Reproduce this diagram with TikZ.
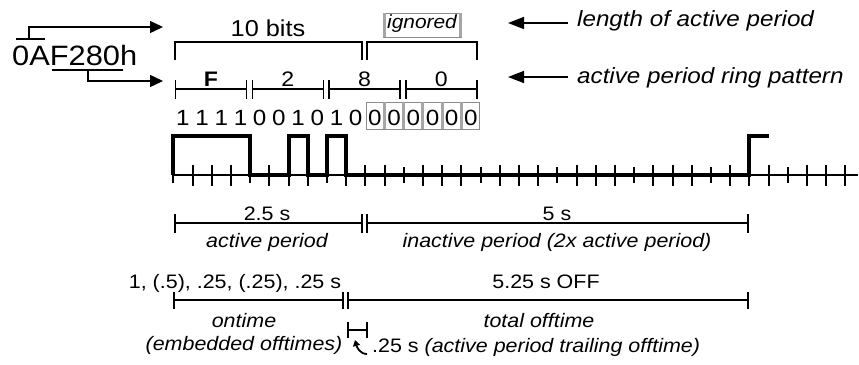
\documentclass[tikz,border=0pt]{standalone}
\usepackage{fontspec}
\setmainfont{Liberation Sans}[FakeStretch=1.1]
\usetikzlibrary{arrows.meta,positioning}

\newcommand{\spanbar}[3][9.5]{%
  \draw[dim] ([yshift=-#1pt]#2) -- ([yshift=#1pt]#2) (#2) -- (#3)
    ([yshift=-#1pt]#3) -- ([yshift=#1pt]#3);}
\newcommand{\bracketbar}[2]{%
  \draw[dim] ([yshift=-18pt]#1) -- (#1) -- (#2) -- ([yshift=-18pt]#2);}

\begin{document}
\begin{tikzpicture}[x=1pt,y=-1pt,
  dim/.style={line width=1.3pt},
  wave/.style={line width=4pt},
  tick/.style={line width=2pt},
  txt/.style={inner sep=0pt,anchor=base,font=\fontsize{19.5}{22}\selectfont},
  itx/.style={txt,font=\fontsize{19.5}{22}\selectfont\itshape},
  side/.style={inner sep=0pt,anchor=base west,font=\fontsize{22}{24}\selectfont\itshape},
  pointer/.style={line width=1.5pt,-{Triangle[length=16pt,width=12pt]}},
  greyline/.style={draw=black!45,line width=0.8pt},
  greybar/.style={black!35,line width=3pt}]

\useasboundingbox (0,0) rectangle (859,364);

% hex code and its two pointers
\node[inner sep=0pt,anchor=base west,font=\fontsize{28}{30}\selectfont] (HEX) at (12,65) {0AF280h};
\coordinate (OL1) at (16,39);
\coordinate (OL2) at (45,39);
\coordinate (OLM) at (29,39);
\coordinate (UL1) at (52,70);
\coordinate (UL2) at (123,70);
\coordinate (ULM) at (88,70);
\coordinate (LP) at (163,27);
\coordinate (RP) at (163,81);
\draw[dim] (OL1) -- (OL2);
\draw[dim] (UL1) -- (UL2);
\draw[pointer,-{Triangle[length=13pt,width=12pt]}] (OLM) |- (LP);
\draw[pointer,-{Triangle[length=13pt,width=12pt]}] (ULM) |- (RP);

% length brackets
\coordinate (TB1) at (175,42);
\coordinate (TB2) at (362,42);
\coordinate (TB3) at (367,42);
\coordinate (TB4) at (477,42);
\bracketbar{TB1}{TB2}
\bracketbar{TB3}{TB4}
\node[txt,font=\fontsize{23}{25}\selectfont] (BITS) at (268,36) {10 bits};
\draw[greyline] (383,13) rectangle (461,37);
\draw[greybar] (384,13) -- (384,37) (460,13) -- (460,37);
\node[itx,font=\fontsize{19}{21}\selectfont\itshape] (IGN) at (422,28) {ignored};

% ring pattern digits
\foreach \k/\v in {0/{\textbf{F}},1/2,2/8,3/0}{
  \coordinate (PA\k) at (175.5+76.8*\k,89);
  \coordinate (PB\k) at (246.5+76.8*\k,89);
  \spanbar{PA\k}{PB\k}
  \node[txt,font=\fontsize{21}{23}\selectfont] (PL\k) at (211+76.8*\k,86.5) {\v};
}

% bits
\draw[greyline] (366,102) rectangle (479,129);
\foreach \i in {11,...,15}
  \draw[greybar] (173.3+19.2*\i,102) -- (173.3+19.2*\i,129);
\foreach \b [count=\i from 0] in {1,1,1,1,0,0,1,0,1,0,0,0,0,0,0,0}
  \node[txt,font=\fontsize{22}{24}\selectfont] (BIT\i) at (182.9+19.2*\i,125) {\b};

% ring waveform
\coordinate (W0) at (173.3,175);
\coordinate (WE) at (858,175);
\foreach \i in {0,...,35}{
  \pgfmathsetmacro\h{mod(\i,4)==0 ? 8 : 10.5}
  \draw[tick] (173.3+19.2*\i,175-\h) -- (173.3+19.2*\i,175+\h);
}
\draw[tick] (W0) -- (WE);
\draw[wave] (W0) -- ++(0,-39) -- ++(76.8,0) -- ++(0,39) -- ++(38.4,0)
  -- ++(0,-39) -- ++(19.2,0) -- ++(0,39) -- ++(19.2,0)
  -- ++(0,-39) -- ++(19.2,0) -- ++(0,39) -- ++(403.2,0)
  -- ++(0,-39) -- ++(19.2,0);

% periods
\coordinate (AP1) at (175,223);
\coordinate (AP2) at (362,223);
\coordinate (IP1) at (367,223);
\coordinate (IP2) at (748,223);
\spanbar{AP1}{AP2}
\spanbar{IP1}{IP2}
\node[txt] (APT) at (267,220) {2.5 s};
\node[itx] (APL) at (267,247) {active period};
\node[txt] (IPT) at (557,220) {5 s};
\node[itx] (IPL) at (557,247) {inactive period (2x active period)};

% on and off times
\coordinate (ON1) at (174,300);
\coordinate (ON2) at (343,300);
\coordinate (OF1) at (348,300);
\coordinate (OF2) at (748,300);
\spanbar[8.5]{ON1}{ON2}
\spanbar[8.5]{OF1}{OF2}
\node[txt] (ONT) at (235,288) {1, (.5), .25, (.25), .25 s};
\node[itx] (ONL) at (244,327) {ontime};
\node[itx] (ONE) at (244,350) {(embedded offtimes)};
\node[txt] (OFT) at (546,288) {5.25 s OFF};
\node[itx] (OFL) at (539,327) {total offtime};

% trailing offtime
\coordinate (TR1) at (348,330);
\coordinate (TR2) at (367,330);
\spanbar[8]{TR1}{TR2}
\coordinate (CA1) at (367,354);
\coordinate (CA2) at (355,340);
\draw[line width=1.8pt,-{Triangle[length=6pt,width=7pt]}] (CA1) to[out=180,in=-75] (CA2);
\node[txt,anchor=base west] (TRT) at (372,352) {.25 s \textit{(active period trailing offtime)}};

% side notes
\coordinate (SA1) at (568,23);
\coordinate (SA2) at (508,23);
\coordinate (SB1) at (568,77);
\coordinate (SB2) at (508,77);
\draw[pointer] (SA1) -- (SA2);
\draw[pointer] (SB1) -- (SB2);
\node[side] (SAT) at (577,27) {length of active period};
\node[side] (SBT) at (577,83) {active period ring pattern};

\end{tikzpicture}
\end{document}
